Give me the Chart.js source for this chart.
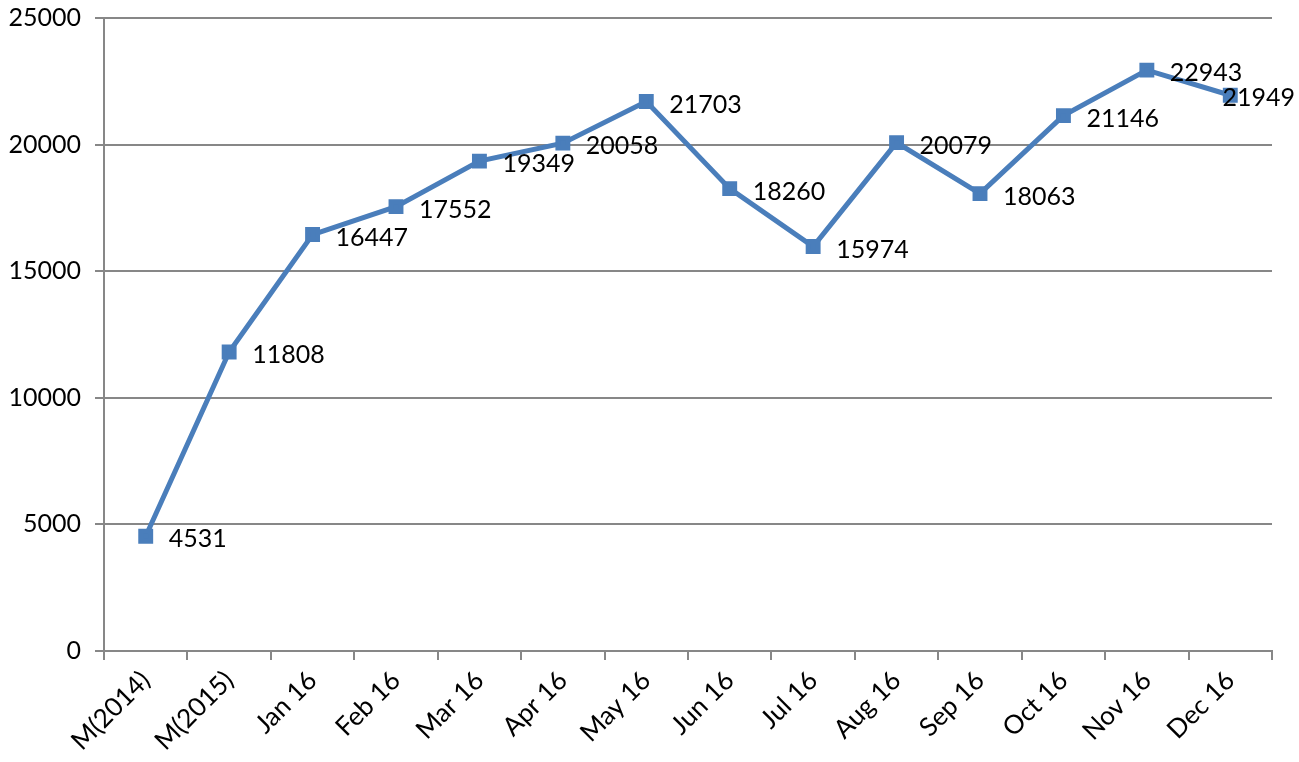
<!DOCTYPE html>
<html>
<head>
<meta charset="utf-8">
<script src="https://cdn.jsdelivr.net/npm/chart.js@4"></script>
<style>
  html, body { margin: 0; padding: 0; background: #fff; }
  #wrap { width: 1299px; height: 762px; }
</style>
</head>
<body>
<div id="wrap"><canvas id="chart" width="1299" height="762"></canvas></div>
<script>
// Categories and values
const months = ['M(2014)', 'M(2015)', 'Jan 16', 'Feb 16', 'Mar 16', 'Apr 16', 'May 16',
                'Jun 16', 'Jul 16', 'Aug 16', 'Sep 16', 'Oct 16', 'Nov 16', 'Dec 16'];
const counts = [4531, 11808, 16447, 17552, 19349, 20058, 21703,
                18260, 15974, 20079, 18063, 21146, 22943, 21949];

const fontName = 'Lato, "Open Sans", sans-serif';
const axisGrey = '#878787';

// Draws the number to the right of every point (pulled back in if it would run off the edge)
const pointLabels = {
    id: 'pointLabels',
    afterDatasetsDraw(chart) {
        const ctx = chart.ctx;
        const meta = chart.getDatasetMeta(0);
        ctx.save();
        ctx.font = '25px ' + fontName;
        ctx.fillStyle = '#000';
        ctx.textAlign = 'left';
        ctx.textBaseline = 'middle';
        meta.data.forEach((pt, i) => {
            const txt = String(counts[i]);
            let x = pt.x + 23;
            const w = ctx.measureText(txt).width;
            if (x + w > chart.width - 4) x = chart.width - 4 - w;
            ctx.fillText(txt, x, pt.y + 3);
        });
        ctx.restore();
    }
};

let canvas = document.getElementById('chart');
let context = canvas.getContext('2d');

new Chart(context, {
    type: 'line',
    data: {
        labels: months,
        datasets: [{
            data: counts,
            borderColor: '#4a7ebb',
            backgroundColor: '#4a7ebb',
            borderWidth: 5,
            tension: 0,
            fill: false,
            pointStyle: 'rect',
            pointRadius: 7,
            pointHoverRadius: 7,
        }]
    },
    options: {
        responsive: false,
        animation: false,
        devicePixelRatio: 1,
        layout: { padding: { top: 0, right: 27, left: 0, bottom: 0 } },
        plugins: { legend: { display: false }, tooltip: { enabled: false } },
        scales: {
            x: {
                offset: true,
                grid: { offset: true, drawOnChartArea: false, drawTicks: true, tickLength: 9, color: axisGrey, lineWidth: 2 },
                border: { color: axisGrey, width: 2 },
                ticks: { color: '#000', font: { family: fontName, size: 26 }, minRotation: 45, maxRotation: 45, padding: 5 },
                afterFit(scale) { scale.height = 111; }
            },
            y: {
                min: 0,
                max: 25000,
                ticks: {
                    stepSize: 5000, color: '#000', font: { family: fontName, size: 25 }, padding: 14,
                    callback: (v) => String(v)
                },
                grid: { color: axisGrey, lineWidth: 2, tickLength: 9 },
                border: { color: axisGrey, width: 2 },
                afterFit(scale) {
                    scale.width = 104;
                    scale.paddingTop = 18;
                    scale.paddingBottom = 0;
                }
            }
        }
    },
    plugins: [pointLabels]
});
</script>
</body>
</html>
